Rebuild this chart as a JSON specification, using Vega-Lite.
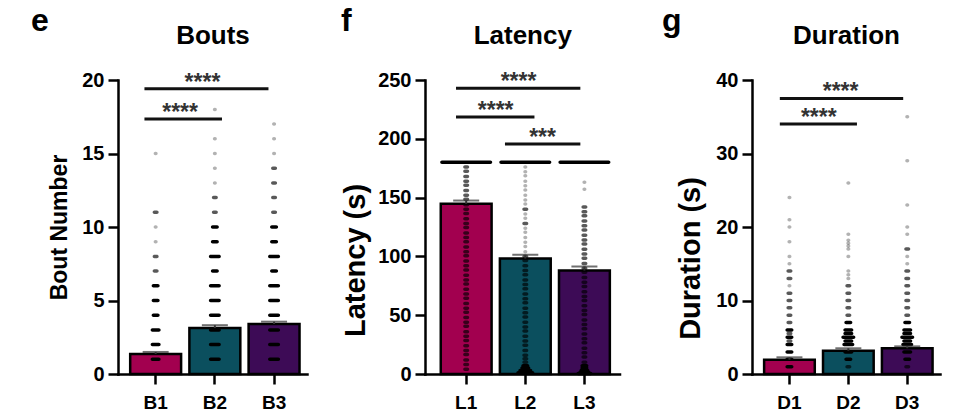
{
  "$schema": "https://vega.github.io/schema/vega-lite/v6.json",
  "background": "white",
  "padding": {"left": 31, "top": 5, "right": 5, "bottom": 5},
  "bounds": "flush",
  "spacing": 118,
  "config": {
    "view": {"stroke": null},
    "font": "Liberation Sans",
    "axis": {
      "labelFont": "Liberation Sans", "titleFont": "Liberation Sans",
      "labelFontWeight": "bold", "titleFontWeight": "bold",
      "labelColor": "#000", "titleColor": "#000",
      "domainColor": "#000", "tickColor": "#000",
      "domainWidth": 2.5, "tickWidth": 2.5, "domainCap": "square",
      "grid": false
    },
    "title": {"font": "Liberation Sans", "fontWeight": "bold", "color": "#000", "fontSize": 32, "anchor": "start", "frame": "group", "baseline": "alphabetic", "offset": 0}
  },
  "hconcat": [
    {
      "width": 189, "height": 294,
      "title": {"text": "e", "dx": -87, "dy": 20},
      "resolve": {"axis": {"x": "independent", "y": "independent"}},
      "layer": [
        {
          "data": {"values": [
            {"g": "B1", "mean": 1.36, "up": 1.5},
            {"g": "B2", "mean": 3.13, "up": 3.32},
            {"g": "B3", "mean": 3.40, "up": 3.56}
          ]},
          "mark": {"type": "bar", "stroke": "#000", "strokeWidth": 2.5},
          "encoding": {
            "x": {"field": "g", "type": "nominal", "scale": {"domain": ["B1", "B2", "B3"], "paddingInner": 0.14, "paddingOuter": 0.166, "align": 0.62},
                  "axis": {"orient": "bottom", "title": null, "labelAngle": 0, "labelFontSize": 19, "tickSize": 10, "labelPadding": 9}},
            "y": {"field": "mean", "type": "quantitative", "scale": {"domain": [0, 20], "nice": false},
                  "axis": {"title": "Bout Number", "values": [0, 5, 10, 15, 20], "labelFontSize": 20, "tickSize": 10, "labelPadding": 4, "titleFontSize": 23, "titlePadding": 10}},
            "color": {"field": "g", "type": "nominal", "scale": {"domain": ["B1", "B2", "B3"], "range": ["#A2004F", "#0B4F5E", "#3D0B56"]}, "legend": null}
          }
        },
        {
          "data": {"values": [
            {"g": "B1", "v": 15, "n": 1}, {"g": "B1", "v": 11, "n": 2}, {"g": "B1", "v": 10, "n": 1}, {"g": "B1", "v": 9, "n": 1},
            {"g": "B1", "v": 8, "n": 2}, {"g": "B1", "v": 7, "n": 2}, {"g": "B1", "v": 6, "n": 3}, {"g": "B1", "v": 5, "n": 3},
            {"g": "B1", "v": 4, "n": 3}, {"g": "B1", "v": 3, "n": 4}, {"g": "B1", "v": 2, "n": 4}, {"g": "B1", "v": 1, "n": 4},
            {"g": "B2", "v": 18, "n": 1}, {"g": "B2", "v": 16, "n": 1}, {"g": "B2", "v": 15, "n": 1}, {"g": "B2", "v": 14, "n": 1},
            {"g": "B2", "v": 13, "n": 1}, {"g": "B2", "v": 12, "n": 2}, {"g": "B2", "v": 11, "n": 2}, {"g": "B2", "v": 10, "n": 3},
            {"g": "B2", "v": 9, "n": 3}, {"g": "B2", "v": 8, "n": 5}, {"g": "B2", "v": 7, "n": 3}, {"g": "B2", "v": 6, "n": 5},
            {"g": "B2", "v": 5, "n": 5}, {"g": "B2", "v": 4, "n": 5}, {"g": "B2", "v": 3, "n": 5}, {"g": "B2", "v": 2, "n": 5},
            {"g": "B2", "v": 1, "n": 5},
            {"g": "B3", "v": 17, "n": 1}, {"g": "B3", "v": 16, "n": 1}, {"g": "B3", "v": 15, "n": 1}, {"g": "B3", "v": 14, "n": 2},
            {"g": "B3", "v": 13, "n": 2}, {"g": "B3", "v": 12, "n": 2}, {"g": "B3", "v": 11, "n": 2}, {"g": "B3", "v": 10, "n": 3},
            {"g": "B3", "v": 9, "n": 3}, {"g": "B3", "v": 8, "n": 5}, {"g": "B3", "v": 7, "n": 3}, {"g": "B3", "v": 6, "n": 5},
            {"g": "B3", "v": 5, "n": 5}, {"g": "B3", "v": 4, "n": 5}, {"g": "B3", "v": 3, "n": 5}, {"g": "B3", "v": 2, "n": 5},
            {"g": "B3", "v": 1, "n": 5}
          ]},
          "mark": {"type": "tick", "color": "#000", "thickness": 3.5, "cornerRadius": 1.75},
          "encoding": {
            "x": {"field": "g", "type": "nominal", "axis": null},
            "y": {"field": "v", "type": "quantitative", "axis": null},
            "size": {"field": "n", "type": "quantitative", "scale": {"type": "linear", "domain": [1, 5], "range": [4, 12], "zero": false}, "legend": null},
            "opacity": {"field": "n", "type": "quantitative", "scale": {"type": "linear", "domain": [1, 3], "range": [0.3, 1], "clamp": true, "zero": false}, "legend": null}
          }
        },
        {
          "data": {"values": [
            {"g": "B1", "mean": 1.36, "up": 1.5},
            {"g": "B2", "mean": 3.13, "up": 3.32},
            {"g": "B3", "mean": 3.40, "up": 3.56}
          ]},
          "mark": {"type": "rule", "color": "#333", "strokeWidth": 2},
          "encoding": {
            "x": {"field": "g", "type": "nominal", "axis": null},
            "y": {"field": "mean", "type": "quantitative", "axis": null},
            "y2": {"field": "up"}
          }
        },
        {
          "data": {"values": [
            {"g": "B1", "mean": 1.36, "up": 1.5},
            {"g": "B2", "mean": 3.13, "up": 3.32},
            {"g": "B3", "mean": 3.40, "up": 3.56}
          ]},
          "mark": {"type": "tick", "color": "#333", "thickness": 2},
          "encoding": {
            "x": {"field": "g", "type": "nominal",
                  "axis": {"orient": "top", "title": "Bouts", "labels": false, "ticks": false, "domain": false, "titleFontSize": 26, "titlePadding": 37, "titleBaseline": "alphabetic"}},
            "y": {"field": "up", "type": "quantitative", "axis": null},
            "size": {"value": 26}
          }
        },
        {
          "data": {"values": [
            {"from": "B1", "to": "B3", "y": 19.4, "label": "****", "k": "13"},
            {"from": "B1", "to": "B2", "y": 17.35, "label": "****", "k": "12"}
          ]},
          "layer": [
            {"transform": [{"filter": "datum.k == '13'"}],
             "mark": {"type": "rule", "color": "#111", "strokeWidth": 3},
             "encoding": {"x": {"field": "from", "type": "nominal", "bandPosition": 0.28, "axis": null}, "x2": {"field": "to", "bandPosition": 0.39}, "y": {"field": "y", "type": "quantitative", "axis": null}}},
            {"transform": [{"filter": "datum.k == '12'"}],
             "mark": {"type": "rule", "color": "#111", "strokeWidth": 3},
             "encoding": {"x": {"field": "from", "type": "nominal", "bandPosition": 0.28, "axis": null}, "x2": {"field": "to", "bandPosition": 0.64}, "y": {"field": "y", "type": "quantitative", "axis": null}}},
            {"transform": [{"filter": "datum.k == '13'"}],
             "mark": {"type": "text", "font": "Liberation Sans", "fontWeight": "bold", "fontSize": 23, "color": "#333", "baseline": "alphabetic", "align": "center", "dy": 1},
             "encoding": {"x": {"field": "from", "type": "nominal", "bandPosition": 1.42, "axis": null}, "y": {"field": "y", "type": "quantitative", "axis": null}, "text": {"field": "label"}}},
            {"transform": [{"filter": "datum.k == '12'"}],
             "mark": {"type": "text", "font": "Liberation Sans", "fontWeight": "bold", "fontSize": 23, "color": "#333", "baseline": "alphabetic", "align": "center", "dy": 1},
             "encoding": {"x": {"field": "from", "type": "nominal", "bandPosition": 0.98, "axis": null}, "y": {"field": "y", "type": "quantitative", "axis": null}, "text": {"field": "label"}}}
          ]
        }
      ]
    },
    {
      "width": 209, "height": 294,
      "title": {"text": "f", "dx": -84, "dy": 20},
      "resolve": {"axis": {"x": "independent", "y": "independent"}},
      "layer": [
        {
          "data": {"values": [
            {"g": "L1", "mean": 144.7, "up": 147.5},
            {"g": "L2", "mean": 98.2, "up": 101.4},
            {"g": "L3", "mean": 88.0, "up": 91.4}
          ]},
          "mark": {"type": "bar", "stroke": "#000", "strokeWidth": 2.5},
          "encoding": {
            "x": {"field": "g", "type": "nominal", "scale": {"domain": ["L1", "L2", "L3"], "range": [0, 194.5], "paddingInner": 0.14, "paddingOuter": 0.215, "align": 0.62},
                  "axis": {"orient": "bottom", "title": null, "labelAngle": 0, "labelFontSize": 19, "tickSize": 10, "labelPadding": 9}},
            "y": {"field": "mean", "type": "quantitative", "scale": {"domain": [0, 250], "nice": false},
                  "axis": {"title": "Latency (s)", "values": [0, 50, 100, 150, 200, 250], "labelFontSize": 20, "tickSize": 10, "labelPadding": 4, "titleFontSize": 29, "titlePadding": 7, "titleY": 180}},
            "color": {"field": "g", "type": "nominal", "scale": {"domain": ["L1", "L2", "L3"], "range": ["#A2004F", "#0B4F5E", "#3D0B56"]}, "legend": null}
          }
        },
        {
          "data": {"values": [
            {"g": "L1", "v": 180, "n": 25}, {"g": "L2", "v": 180, "n": 25}, {"g": "L3", "v": 180, "n": 25},
            {"g": "L1", "v": 176, "n": 2}, {"g": "L1", "v": 172.5, "n": 2}, {"g": "L1", "v": 168, "n": 2}, {"g": "L1", "v": 164, "n": 2},
            {"g": "L1", "v": 160.5, "n": 2}, {"g": "L1", "v": 156, "n": 2}, {"g": "L1", "v": 152, "n": 2}, {"g": "L1", "v": 148.5, "n": 2},
            {"g": "L1", "v": 144, "n": 2}, {"g": "L1", "v": 140, "n": 2}, {"g": "L1", "v": 136.5, "n": 2}, {"g": "L1", "v": 132, "n": 2},
            {"g": "L1", "v": 128, "n": 2}, {"g": "L1", "v": 124.5, "n": 2}, {"g": "L1", "v": 120, "n": 2}, {"g": "L1", "v": 116, "n": 2},
            {"g": "L1", "v": 112.5, "n": 2}, {"g": "L1", "v": 108, "n": 2}, {"g": "L1", "v": 104, "n": 2}, {"g": "L1", "v": 100.5, "n": 2},
            {"g": "L1", "v": 96, "n": 2}, {"g": "L1", "v": 92, "n": 2}, {"g": "L1", "v": 88.5, "n": 2}, {"g": "L1", "v": 84, "n": 2},
            {"g": "L1", "v": 80, "n": 2}, {"g": "L1", "v": 76.5, "n": 2}, {"g": "L1", "v": 72, "n": 2}, {"g": "L1", "v": 68, "n": 2},
            {"g": "L1", "v": 64.5, "n": 2}, {"g": "L1", "v": 60, "n": 2}, {"g": "L1", "v": 56, "n": 2}, {"g": "L1", "v": 52.5, "n": 2},
            {"g": "L1", "v": 48, "n": 2}, {"g": "L1", "v": 44, "n": 2}, {"g": "L1", "v": 40.5, "n": 2}, {"g": "L1", "v": 36, "n": 2},
            {"g": "L1", "v": 32, "n": 2}, {"g": "L1", "v": 28.5, "n": 2}, {"g": "L1", "v": 24, "n": 2}, {"g": "L1", "v": 20, "n": 2},
            {"g": "L1", "v": 16.5, "n": 2}, {"g": "L1", "v": 12, "n": 2}, {"g": "L1", "v": 8, "n": 2}, {"g": "L1", "v": 4, "n": 2},
            {"g": "L2", "v": 176, "n": 1}, {"g": "L2", "v": 172, "n": 1}, {"g": "L2", "v": 168.5, "n": 1}, {"g": "L2", "v": 164, "n": 1},
            {"g": "L2", "v": 160, "n": 1}, {"g": "L2", "v": 156.5, "n": 1}, {"g": "L2", "v": 152, "n": 1}, {"g": "L2", "v": 148, "n": 1},
            {"g": "L2", "v": 144.5, "n": 1}, {"g": "L2", "v": 140, "n": 2}, {"g": "L2", "v": 136, "n": 1}, {"g": "L2", "v": 132.5, "n": 1},
            {"g": "L2", "v": 128, "n": 2}, {"g": "L2", "v": 124, "n": 1}, {"g": "L2", "v": 120.5, "n": 1}, {"g": "L2", "v": 116, "n": 1},
            {"g": "L2", "v": 112, "n": 1}, {"g": "L2", "v": 108.5, "n": 1}, {"g": "L2", "v": 104, "n": 1},
            {"g": "L2", "v": 100, "n": 2}, {"g": "L2", "v": 96.5, "n": 2}, {"g": "L2", "v": 92, "n": 2}, {"g": "L2", "v": 88, "n": 2},
            {"g": "L2", "v": 84.5, "n": 2}, {"g": "L2", "v": 80, "n": 2}, {"g": "L2", "v": 76, "n": 2}, {"g": "L2", "v": 72.5, "n": 2},
            {"g": "L2", "v": 68, "n": 2}, {"g": "L2", "v": 64, "n": 2}, {"g": "L2", "v": 60.5, "n": 2}, {"g": "L2", "v": 56, "n": 2},
            {"g": "L2", "v": 52, "n": 2}, {"g": "L2", "v": 48.5, "n": 2}, {"g": "L2", "v": 44, "n": 2}, {"g": "L2", "v": 40, "n": 2},
            {"g": "L2", "v": 36.5, "n": 2}, {"g": "L2", "v": 32, "n": 2}, {"g": "L2", "v": 28, "n": 2}, {"g": "L2", "v": 24.5, "n": 2},
            {"g": "L2", "v": 20, "n": 2}, {"g": "L2", "v": 16, "n": 2}, {"g": "L2", "v": 13, "n": 2},
            {"g": "L2", "v": 10, "n": 2}, {"g": "L2", "v": 7, "n": 3}, {"g": "L2", "v": 5, "n": 4}, {"g": "L2", "v": 3, "n": 6}, {"g": "L2", "v": 1, "n": 8},
            {"g": "L3", "v": 163, "n": 1}, {"g": "L3", "v": 157, "n": 1},
            {"g": "L3", "v": 142, "n": 2}, {"g": "L3", "v": 138, "n": 2}, {"g": "L3", "v": 134.5, "n": 2}, {"g": "L3", "v": 130, "n": 2},
            {"g": "L3", "v": 126, "n": 2}, {"g": "L3", "v": 122.5, "n": 2}, {"g": "L3", "v": 118, "n": 2}, {"g": "L3", "v": 114, "n": 2},
            {"g": "L3", "v": 110.5, "n": 2}, {"g": "L3", "v": 106, "n": 2}, {"g": "L3", "v": 102, "n": 2}, {"g": "L3", "v": 98.5, "n": 2},
            {"g": "L3", "v": 94, "n": 2}, {"g": "L3", "v": 90, "n": 2}, {"g": "L3", "v": 86.5, "n": 2}, {"g": "L3", "v": 82, "n": 2},
            {"g": "L3", "v": 78, "n": 2}, {"g": "L3", "v": 74.5, "n": 2}, {"g": "L3", "v": 70, "n": 2}, {"g": "L3", "v": 66, "n": 2},
            {"g": "L3", "v": 62.5, "n": 2}, {"g": "L3", "v": 58, "n": 2}, {"g": "L3", "v": 54, "n": 2}, {"g": "L3", "v": 50.5, "n": 2},
            {"g": "L3", "v": 46, "n": 2}, {"g": "L3", "v": 42, "n": 2}, {"g": "L3", "v": 38.5, "n": 2}, {"g": "L3", "v": 34, "n": 2},
            {"g": "L3", "v": 30, "n": 2}, {"g": "L3", "v": 26.5, "n": 2}, {"g": "L3", "v": 22, "n": 2}, {"g": "L3", "v": 18, "n": 2},
            {"g": "L3", "v": 14.5, "n": 2},
            {"g": "L3", "v": 10, "n": 2}, {"g": "L3", "v": 7, "n": 3}, {"g": "L3", "v": 5, "n": 3}, {"g": "L3", "v": 3, "n": 4}, {"g": "L3", "v": 1.5, "n": 5}, {"g": "L3", "v": 0.5, "n": 7}
          ]},
          "mark": {"type": "tick", "color": "#000", "thickness": 3.5, "cornerRadius": 1.75},
          "encoding": {
            "x": {"field": "g", "type": "nominal", "axis": null},
            "y": {"field": "v", "type": "quantitative", "axis": null},
            "size": {"field": "n", "type": "quantitative", "scale": {"type": "linear", "domain": [1, 5], "range": [4, 12], "zero": false}, "legend": null},
            "opacity": {"field": "n", "type": "quantitative", "scale": {"type": "linear", "domain": [1, 3], "range": [0.3, 1], "clamp": true, "zero": false}, "legend": null}
          }
        },
        {
          "data": {"values": [
            {"g": "L1", "mean": 144.7, "up": 147.5},
            {"g": "L2", "mean": 98.2, "up": 101.4},
            {"g": "L3", "mean": 88.0, "up": 91.4}
          ]},
          "mark": {"type": "rule", "color": "#333", "strokeWidth": 2},
          "encoding": {
            "x": {"field": "g", "type": "nominal", "axis": null},
            "y": {"field": "mean", "type": "quantitative", "axis": null},
            "y2": {"field": "up"}
          }
        },
        {
          "data": {"values": [
            {"g": "L1", "mean": 144.7, "up": 147.5},
            {"g": "L2", "mean": 98.2, "up": 101.4},
            {"g": "L3", "mean": 88.0, "up": 91.4}
          ]},
          "mark": {"type": "tick", "color": "#333", "thickness": 2},
          "encoding": {
            "x": {"field": "g", "type": "nominal",
                  "axis": {"orient": "top", "title": "Latency", "labels": false, "ticks": false, "domain": false, "titleFontSize": 26, "titlePadding": 37, "titleBaseline": "alphabetic"}},
            "y": {"field": "up", "type": "quantitative", "axis": null},
            "size": {"value": 26}
          }
        },
        {
          "data": {"values": [
            {"from": "L1", "to": "L3", "y": 243, "label": "****", "k": "13"},
            {"from": "L1", "to": "L2", "y": 218.5, "label": "****", "k": "12"},
            {"from": "L2", "to": "L3", "y": 195.6, "label": "***", "k": "23"}
          ]},
          "layer": [
            {"transform": [{"filter": "datum.k == '13'"}],
             "mark": {"type": "rule", "color": "#111", "strokeWidth": 3},
             "encoding": {"x": {"field": "from", "type": "nominal", "bandPosition": 0.3, "axis": null}, "x2": {"field": "to", "bandPosition": 0.42}, "y": {"field": "y", "type": "quantitative", "axis": null}}},
            {"transform": [{"filter": "datum.k == '12'"}],
             "mark": {"type": "rule", "color": "#111", "strokeWidth": 3},
             "encoding": {"x": {"field": "from", "type": "nominal", "bandPosition": 0.3, "axis": null}, "x2": {"field": "to", "bandPosition": 0.68}, "y": {"field": "y", "type": "quantitative", "axis": null}}},
            {"transform": [{"filter": "datum.k == '23'"}],
             "mark": {"type": "rule", "color": "#111", "strokeWidth": 3},
             "encoding": {"x": {"field": "from", "type": "nominal", "bandPosition": 0.1, "axis": null}, "x2": {"field": "to", "bandPosition": 0.42}, "y": {"field": "y", "type": "quantitative", "axis": null}}},
            {"transform": [{"filter": "datum.k == '13'"}],
             "mark": {"type": "text", "font": "Liberation Sans", "fontWeight": "bold", "fontSize": 23, "color": "#333", "baseline": "alphabetic", "align": "center", "dy": 1},
             "encoding": {"x": {"field": "from", "type": "nominal", "bandPosition": 1.53, "axis": null}, "y": {"field": "y", "type": "quantitative", "axis": null}, "text": {"field": "label"}}},
            {"transform": [{"filter": "datum.k == '12'"}],
             "mark": {"type": "text", "font": "Liberation Sans", "fontWeight": "bold", "fontSize": 23, "color": "#333", "baseline": "alphabetic", "align": "center", "dy": 1},
             "encoding": {"x": {"field": "from", "type": "nominal", "bandPosition": 1.08, "axis": null}, "y": {"field": "y", "type": "quantitative", "axis": null}, "text": {"field": "label"}}},
            {"transform": [{"filter": "datum.k == '23'"}],
             "mark": {"type": "text", "font": "Liberation Sans", "fontWeight": "bold", "fontSize": 23, "color": "#333", "baseline": "alphabetic", "align": "center", "dy": 1},
             "encoding": {"x": {"field": "from", "type": "nominal", "bandPosition": 0.84, "axis": null}, "y": {"field": "y", "type": "quantitative", "axis": null}, "text": {"field": "label"}}}
          ]
        }
      ]
    },
    {
      "width": 188, "height": 294,
      "title": {"text": "g", "dx": -90, "dy": 20},
      "resolve": {"axis": {"x": "independent", "y": "independent"}},
      "layer": [
        {
          "data": {"values": [
            {"g": "D1", "mean": 1.95, "up": 2.27},
            {"g": "D2", "mean": 3.17, "up": 3.5},
            {"g": "D3", "mean": 3.5, "up": 3.76}
          ]},
          "mark": {"type": "bar", "stroke": "#000", "strokeWidth": 2.5},
          "encoding": {
            "x": {"field": "g", "type": "nominal", "scale": {"domain": ["D1", "D2", "D3"], "paddingInner": 0.14, "paddingOuter": 0.166, "align": 0.62},
                  "axis": {"orient": "bottom", "title": null, "labelAngle": 0, "labelFontSize": 19, "tickSize": 10, "labelPadding": 9}},
            "y": {"field": "mean", "type": "quantitative", "scale": {"domain": [0, 40], "nice": false},
                  "axis": {"title": "Duration (s)", "values": [0, 10, 20, 30, 40], "labelFontSize": 20, "tickSize": 10, "labelPadding": 4, "titleFontSize": 29, "titlePadding": 10, "titleY": 178}},
            "color": {"field": "g", "type": "nominal", "scale": {"domain": ["D1", "D2", "D3"], "range": ["#A2004F", "#0B4F5E", "#3D0B56"]}, "legend": null}
          }
        },
        {
          "data": {"values": [
            {"g": "D1", "v": 24, "n": 1}, {"g": "D1", "v": 21, "n": 1}, {"g": "D1", "v": 20, "n": 1}, {"g": "D1", "v": 18, "n": 1},
            {"g": "D1", "v": 16, "n": 1}, {"g": "D1", "v": 15, "n": 1}, {"g": "D1", "v": 14, "n": 2}, {"g": "D1", "v": 13, "n": 2},
            {"g": "D1", "v": 12, "n": 1}, {"g": "D1", "v": 11, "n": 2}, {"g": "D1", "v": 10, "n": 2}, {"g": "D1", "v": 9, "n": 2},
            {"g": "D1", "v": 8, "n": 2}, {"g": "D1", "v": 7, "n": 2}, {"g": "D1", "v": 6, "n": 3}, {"g": "D1", "v": 5.5, "n": 2},
            {"g": "D1", "v": 5, "n": 3}, {"g": "D1", "v": 4.5, "n": 2}, {"g": "D1", "v": 4, "n": 3}, {"g": "D1", "v": 3, "n": 3},
            {"g": "D1", "v": 2, "n": 3}, {"g": "D1", "v": 1, "n": 3},
            {"g": "D2", "v": 26, "n": 1}, {"g": "D2", "v": 19, "n": 1}, {"g": "D2", "v": 18.2, "n": 1}, {"g": "D2", "v": 17.8, "n": 1},
            {"g": "D2", "v": 17.4, "n": 1}, {"g": "D2", "v": 17, "n": 1}, {"g": "D2", "v": 16, "n": 1}, {"g": "D2", "v": 14, "n": 1},
            {"g": "D2", "v": 13.5, "n": 1}, {"g": "D2", "v": 13, "n": 1}, {"g": "D2", "v": 12, "n": 2}, {"g": "D2", "v": 11, "n": 2},
            {"g": "D2", "v": 10, "n": 2}, {"g": "D2", "v": 9, "n": 2}, {"g": "D2", "v": 8, "n": 2}, {"g": "D2", "v": 7, "n": 3},
            {"g": "D2", "v": 6, "n": 4}, {"g": "D2", "v": 5.5, "n": 4}, {"g": "D2", "v": 5, "n": 6}, {"g": "D2", "v": 4.5, "n": 4},
            {"g": "D2", "v": 4, "n": 5}, {"g": "D2", "v": 3, "n": 4}, {"g": "D2", "v": 2, "n": 3}, {"g": "D2", "v": 1, "n": 2},
            {"g": "D3", "v": 35, "n": 1}, {"g": "D3", "v": 29, "n": 1}, {"g": "D3", "v": 23, "n": 1}, {"g": "D3", "v": 20, "n": 1},
            {"g": "D3", "v": 19, "n": 1}, {"g": "D3", "v": 17, "n": 2}, {"g": "D3", "v": 16, "n": 1}, {"g": "D3", "v": 15, "n": 1},
            {"g": "D3", "v": 14, "n": 2}, {"g": "D3", "v": 13, "n": 2}, {"g": "D3", "v": 12, "n": 2}, {"g": "D3", "v": 11, "n": 2},
            {"g": "D3", "v": 10, "n": 2}, {"g": "D3", "v": 9, "n": 2}, {"g": "D3", "v": 8, "n": 2}, {"g": "D3", "v": 7, "n": 3},
            {"g": "D3", "v": 6, "n": 4}, {"g": "D3", "v": 5.5, "n": 4}, {"g": "D3", "v": 5, "n": 6}, {"g": "D3", "v": 4.5, "n": 4},
            {"g": "D3", "v": 4, "n": 5}, {"g": "D3", "v": 3, "n": 4}, {"g": "D3", "v": 2, "n": 3}, {"g": "D3", "v": 1, "n": 2}
          ]},
          "mark": {"type": "tick", "color": "#000", "thickness": 3.5, "cornerRadius": 1.75},
          "encoding": {
            "x": {"field": "g", "type": "nominal", "axis": null},
            "y": {"field": "v", "type": "quantitative", "axis": null},
            "size": {"field": "n", "type": "quantitative", "scale": {"type": "linear", "domain": [1, 5], "range": [4, 12], "zero": false}, "legend": null},
            "opacity": {"field": "n", "type": "quantitative", "scale": {"type": "linear", "domain": [1, 3], "range": [0.3, 1], "clamp": true, "zero": false}, "legend": null}
          }
        },
        {
          "data": {"values": [
            {"g": "D1", "mean": 1.95, "up": 2.27},
            {"g": "D2", "mean": 3.17, "up": 3.5},
            {"g": "D3", "mean": 3.5, "up": 3.76}
          ]},
          "mark": {"type": "rule", "color": "#333", "strokeWidth": 2},
          "encoding": {
            "x": {"field": "g", "type": "nominal", "axis": null},
            "y": {"field": "mean", "type": "quantitative", "axis": null},
            "y2": {"field": "up"}
          }
        },
        {
          "data": {"values": [
            {"g": "D1", "mean": 1.95, "up": 2.27},
            {"g": "D2", "mean": 3.17, "up": 3.5},
            {"g": "D3", "mean": 3.5, "up": 3.76}
          ]},
          "mark": {"type": "tick", "color": "#333", "thickness": 2},
          "encoding": {
            "x": {"field": "g", "type": "nominal",
                  "axis": {"orient": "top", "title": "Duration", "labels": false, "ticks": false, "domain": false, "titleFontSize": 26, "titlePadding": 37, "titleBaseline": "alphabetic"}},
            "y": {"field": "up", "type": "quantitative", "axis": null},
            "size": {"value": 26}
          }
        },
        {
          "data": {"values": [
            {"from": "D1", "to": "D3", "y": 37.5, "label": "****", "k": "13"},
            {"from": "D1", "to": "D2", "y": 34.0, "label": "****", "k": "12"}
          ]},
          "layer": [
            {"transform": [{"filter": "datum.k == '13'"}],
             "mark": {"type": "rule", "color": "#111", "strokeWidth": 3},
             "encoding": {"x": {"field": "from", "type": "nominal", "bandPosition": 0.31, "axis": null}, "x2": {"field": "to", "bandPosition": 0.42}, "y": {"field": "y", "type": "quantitative", "axis": null}}},
            {"transform": [{"filter": "datum.k == '12'"}],
             "mark": {"type": "rule", "color": "#111", "strokeWidth": 3},
             "encoding": {"x": {"field": "from", "type": "nominal", "bandPosition": 0.31, "axis": null}, "x2": {"field": "to", "bandPosition": 0.67}, "y": {"field": "y", "type": "quantitative", "axis": null}}},
            {"transform": [{"filter": "datum.k == '13'"}],
             "mark": {"type": "text", "font": "Liberation Sans", "fontWeight": "bold", "fontSize": 23, "color": "#333", "baseline": "alphabetic", "align": "center", "dy": 1},
             "encoding": {"x": {"field": "from", "type": "nominal", "bandPosition": 1.51, "axis": null}, "y": {"field": "y", "type": "quantitative", "axis": null}, "text": {"field": "label"}}},
            {"transform": [{"filter": "datum.k == '12'"}],
             "mark": {"type": "text", "font": "Liberation Sans", "fontWeight": "bold", "fontSize": 23, "color": "#333", "baseline": "alphabetic", "align": "center", "dy": 1},
             "encoding": {"x": {"field": "from", "type": "nominal", "bandPosition": 1.08, "axis": null}, "y": {"field": "y", "type": "quantitative", "axis": null}, "text": {"field": "label"}}}
          ]
        }
      ]
    }
  ]
}
